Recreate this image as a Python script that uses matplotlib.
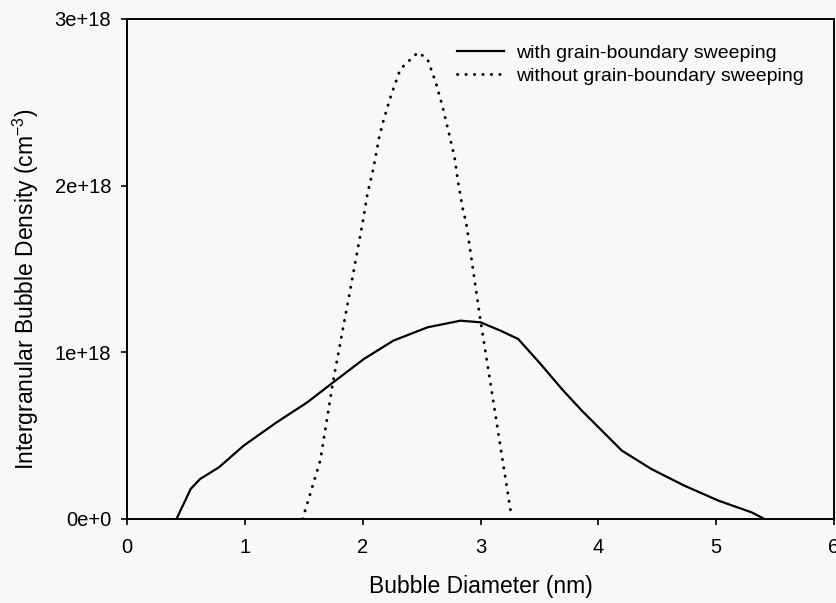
import matplotlib
matplotlib.use("Agg")
import matplotlib.pyplot as plt

plt.rcParams['font.family'] = ['Liberation Sans', 'DejaVu Sans']
plt.rcParams['mathtext.fontset'] = 'custom'
plt.rcParams['mathtext.rm'] = 'Liberation Sans'
plt.rcParams['mathtext.it'] = 'Liberation Sans'
plt.rcParams['mathtext.default'] = 'regular'

# Data (diameter in nm, density in cm^-3)
with_x = [0.42, 0.54, 0.62, 0.78, 0.99, 1.27, 1.53, 1.75, 2.01, 2.26, 2.55, 2.83,
          3.00, 3.17, 3.32, 3.51, 3.69, 3.86, 4.03, 4.20, 4.45, 4.73, 5.02, 5.30, 5.41]
with_y = [0.00, 0.18, 0.24, 0.31, 0.44, 0.58, 0.70, 0.82, 0.96, 1.07, 1.15, 1.19,
          1.18, 1.13, 1.08, 0.93, 0.78, 0.65, 0.53, 0.41, 0.30, 0.20, 0.11, 0.04, 0.00]
without_x = [1.49, 1.64, 1.75, 1.88, 2.00, 2.04, 2.09, 2.14, 2.18, 2.24, 2.32, 2.47,
             2.55, 2.62, 2.68, 2.73, 2.78, 2.81, 2.85, 2.88, 3.00, 3.09, 3.17, 3.26]
without_y = [0.00, 0.35, 0.83, 1.32, 1.78, 1.95, 2.10, 2.29, 2.40, 2.54, 2.70, 2.80,
             2.76, 2.62, 2.47, 2.32, 2.17, 2.02, 1.86, 1.77, 1.19, 0.79, 0.43, 0.03]
scale = 1e18
x_ticks = [0, 1, 2, 3, 4, 5, 6]
y_ticks = [0, 1e18, 2e18, 3e18]
y_tick_labels = ["0e+0", "1e+18", "2e+18", "3e+18"]
labels = ["with grain-boundary sweeping", "without grain-boundary sweeping"]

bg = '#f8f8f8'
fig = plt.figure(figsize=(8.36, 6.03), dpi=100, facecolor=bg)
ax = fig.add_axes([127/836, 1-519/603, (834-127)/836, (519-19)/603], facecolor=bg)

ax.plot(with_x, [v*scale for v in with_y], color='black', lw=1.6, label=labels[0])
ax.plot(without_x, [v*scale for v in without_y], color='black', lw=2.1,
        linestyle=(0, (0.1, 2.8)), dash_capstyle='round', label=labels[1])

ax.set_xlim(0, 6)
ax.set_ylim(0, 3e18)
ax.set_xticks(x_ticks)
ax.set_xticklabels([str(t) for t in x_ticks])
ax.set_yticks(y_ticks)
ax.set_yticklabels(y_tick_labels)
ax.tick_params(direction='out', length=4, width=1.2, labelsize=14.5, color='black')
ax.tick_params(axis='x', pad=10)
ax.tick_params(axis='y', pad=7.5)
for s in ax.spines.values():
    s.set_linewidth(1.4)

ax.set_xlabel("Bubble Diameter (nm)", fontsize=16.5, labelpad=13)
ax.set_ylabel("Intergranular Bubble Density (cm$^{\\mathrm{-3}}$)", fontsize=16.5)
ax.yaxis.set_label_coords(-0.121, 0.46)

leg = ax.legend(loc='upper left', bbox_to_anchor=((457-127)/707, 1-(44-19)/500),
                frameon=False, fontsize=14, handlelength=2.4, handletextpad=0.65,
                borderpad=0, borderaxespad=0, labelspacing=0.3)

fig.savefig("out.png", dpi=100, facecolor=bg)
